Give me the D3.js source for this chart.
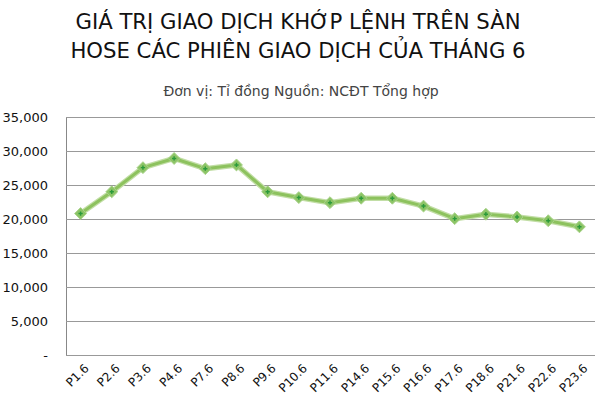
<!DOCTYPE html>
<html><head><meta charset="utf-8">
<script src="https://cdn.jsdelivr.net/npm/d3@7"></script>
<style>body{margin:0;background:#fff;font-family:"DejaVu Sans",sans-serif;}</style>
</head><body><svg id="c" width="600" height="410"></svg>
<script>
const titleLines = ["GIÁ TRỊ GIAO DỊCH KHỚP LỆNH TRÊN SÀN", "HOSE CÁC PHIÊN GIAO DỊCH CỦA THÁNG 6"];
const subtitle = "Đơn vị: Tỉ đồng Nguồn: NCĐT Tổng hợp";
const categories = ["P1.6","P2.6","P3.6","P4.6","P7.6","P8.6","P9.6","P10.6","P11.6","P14.6","P15.6","P16.6","P17.6","P18.6","P21.6","P22.6","P23.6"];
const values = [20800,24000,27550,28900,27400,27950,24000,23150,22400,23050,23050,21900,20050,20700,20300,19750,18850];
const yTicks = [0,5000,10000,15000,20000,25000,30000,35000];

const svg = d3.select("#c");
const F = "'DejaVu Sans',sans-serif";
const m = {l:66, r:595, t:117, b:355};
const x = d3.scaleBand().domain(categories).range([m.l-1, m.r]);
const y = d3.scaleLinear().domain([0,35000]).range([m.b, m.t]);

svg.selectAll("text.title").data(titleLines).join("text")
  .attr("x",298).attr("y",(d,i)=>29+i*29).attr("text-anchor","middle")
  .attr("font-family",F).attr("font-size",21.2).attr("fill","#111").text(d=>d);
svg.append("text").attr("x",301).attr("y",96).attr("text-anchor","middle")
  .attr("font-family",F).attr("font-size",14).attr("fill","#444").text(subtitle);

// grid
const yAxis = d3.axisLeft(y).tickValues(yTicks).tickSize(-(m.r-m.l)).tickPadding(18)
  .tickFormat(d=> d===0 ? "-" : d3.format(",")(d));
const gy = svg.append("g").attr("transform",`translate(${m.l},0)`).call(yAxis);
gy.select(".domain").attr("stroke","#888");
gy.selectAll(".tick line").attr("stroke","#999").attr("stroke-width",1.2);
gy.selectAll(".tick text").attr("font-size",13).attr("fill","#111")
  .attr("font-family",F);

// x axis
const xAxis = d3.axisBottom(x).tickSize(0).tickPadding(0);
const gx = svg.append("g").attr("transform",`translate(0,${m.b})`).call(xAxis);
gx.select(".domain").remove();
gx.selectAll(".tick text").attr("font-size",12).attr("fill","#111").attr("font-family",F)
  .attr("text-anchor","end").attr("x",0).attr("y",0).attr("dy","0.35em")
  .attr("transform","translate(6,11) rotate(-45)");

const pts = categories.map((c,i)=>[x(c)+x.bandwidth()/2, y(values[i])]);
const line = d3.line();
svg.append("path").attr("d",line(pts)).attr("fill","none")
  .attr("stroke","#c2dea6").attr("stroke-width",5.5).attr("stroke-linejoin","round");
svg.append("path").attr("d",line(pts)).attr("fill","none")
  .attr("stroke","#8dc25e").attr("stroke-width",3).attr("stroke-linejoin","round");

const mk = svg.append("g").selectAll("g").data(pts).join("g")
  .attr("transform",d=>`translate(${d[0]},${d[1]})`);
mk.append("path").attr("d",d3.symbol(d3.symbolDiamond2,90)())
  .attr("fill","#8cc466").attr("stroke","#a9d38a").attr("stroke-width",1);
mk.append("path").attr("d",d3.symbol(d3.symbolCross,10)()).attr("fill","#2a9a3a");
</script></body></html>
